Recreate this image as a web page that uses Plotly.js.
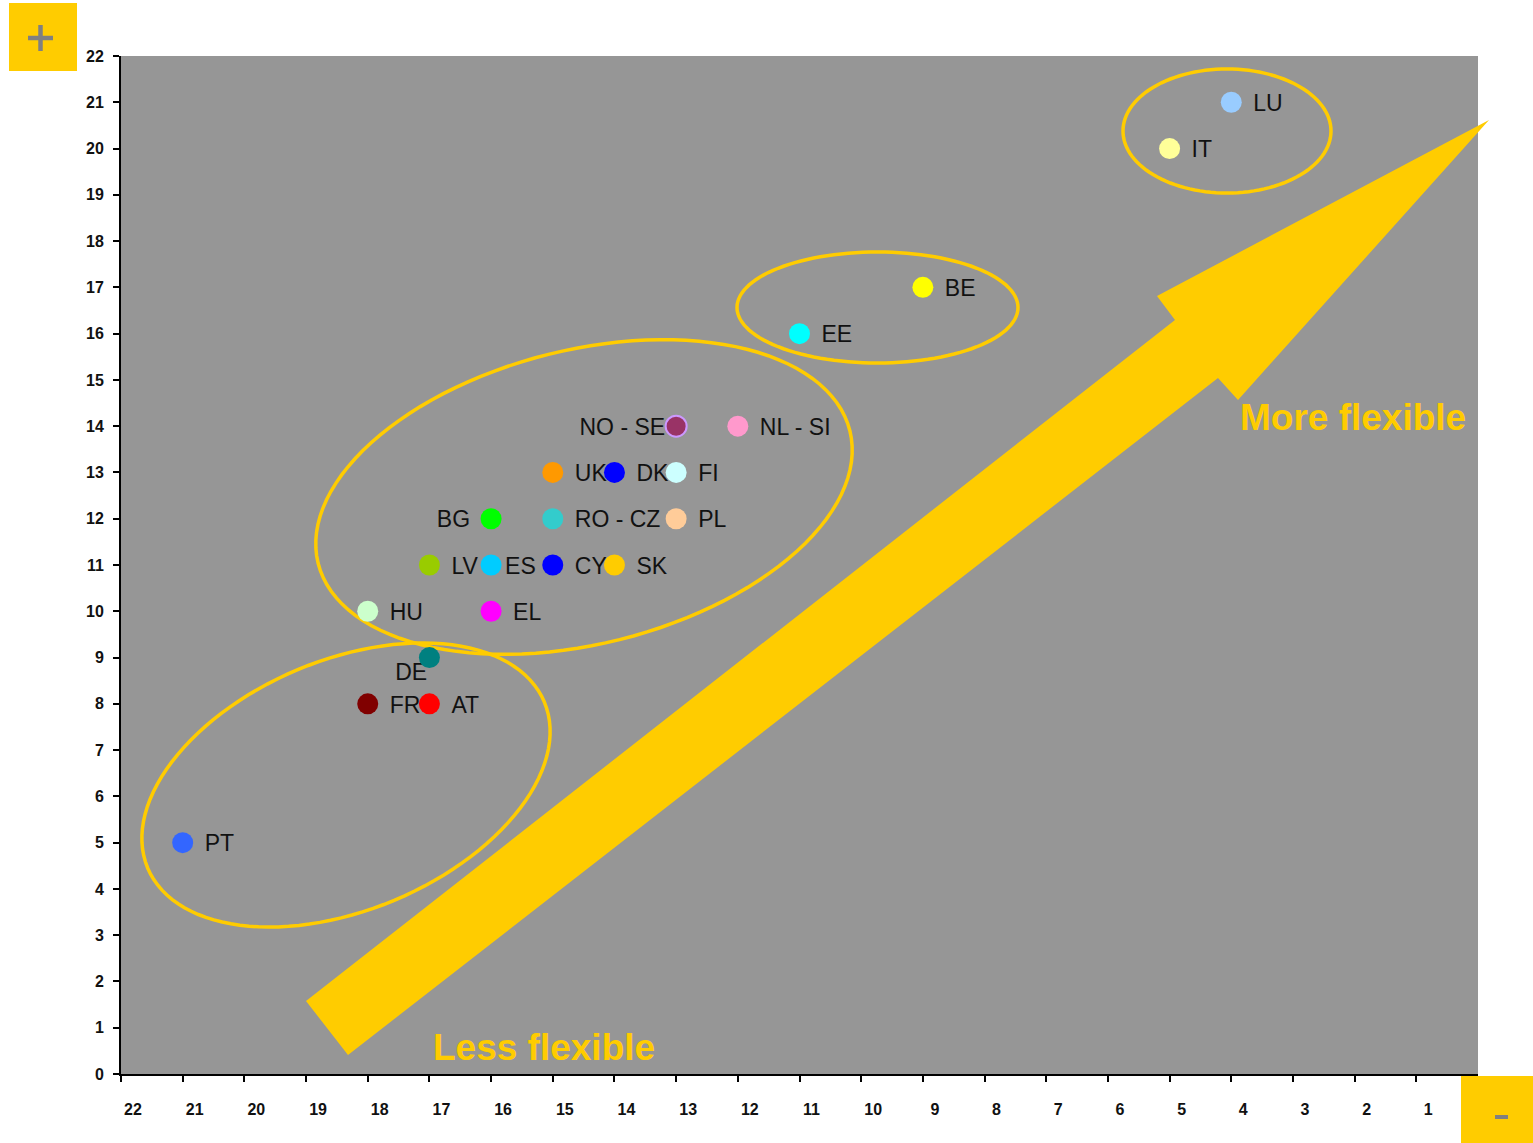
<!DOCTYPE html>
<html><head><meta charset="utf-8">
<script src="https://cdn.plot.ly/plotly-3.0.1.min.js"></script>
<style>html,body{margin:0;padding:0;background:#fff;} #chart{width:1533px;height:1143px;}</style>
</head><body><div id="chart"></div>
<script>
// ---- data ----
const countries = ['LU','IT','BE','EE','NO - SE','NL - SI','UK','DK','FI','BG','RO - CZ','PL','LV','ES','CY','SK','HU','EL','DE','FR','AT','PT'];
const xScore = [4,5,9,11,13,12,15,14,13,16,15,13,17,16,15,14,18,16,17,18,17,21];
const yScore = [21,20,17,16,14,14,13,13,13,12,12,12,11,11,11,11,10,10,9,8,8,5];
const markerColors = ['#99ccff','#ffff99','#ffff00','#00ffff','#993366','#ff99cc','#ff9900','#0000ff','#ccffff','#00ff00','#33cccc','#ffcc99','#99cc00','#00ccff','#0000ff','#ffcc00','#ccffcc','#ff00ff','#008080','#800000','#ff0000','#3366ff'];
const xTicks = [1,2,3,4,5,6,7,8,9,10,11,12,13,14,15,16,17,18,19,20,21,22];
const yTicks = [0,1,2,3,4,5,6,7,8,9,10,11,12,13,14,15,16,17,18,19,20,21,22];
const xTickLabels = ['1','2','3','4','5','6','7','8','9','10','11','12','13','14','15','16','17','18','19','20','21','22'];
const yTickLabels = ['0','1','2','3','4','5','6','7','8','9','10','11','12','13','14','15','16','17','18','19','20','21','22'];
const noteHigh = 'More flexible';
const noteLow = 'Less flexible';

// ---- styling / placement ----
const YELLOW = '#ffcc00';
const FONT = 'Arial, "Liberation Sans", sans-serif';
const labelPlacement = {
  'NO - SE': {pos: 'middle left', gap: 11},
  'BG': {pos: 'middle left', gap: 21},
  'ES': {pos: 'middle right', gap: 14},
  'DE': {pos: 'bottom left', gap: 2.2}
};
const defaultPlacement = {pos: 'middle right', gap: 22};
const placeFor = c => labelPlacement[c] || defaultPlacement;

// plot area in pixels
const L = 121, R = 55, T = 56, B = 69, W = 1533, H = 1143;
const PW = W - L - R, PH = H - T - B;
const px = (x) => (x - L) / PW;
const py = (y) => (H - B - y) / PH;
const Y_RANGE = [0, 22];
const LABEL_DROP_PX = 3; // labels sit a little lower than the marker centre
const labelOffset = LABEL_DROP_PX * (Y_RANGE[1] - Y_RANGE[0]) / PH;

function pathFromPx(pts) {
  return pts.map((p, i) => (i ? 'L' : 'M') + px(p[0]).toFixed(5) + ',' + py(p[1]).toFixed(5)).join(' ') + ' Z';
}
function ellipsePath(cx, cy, a, b, deg) {
  const th = deg * Math.PI / 180, pts = [];
  for (let i = 0; i < 120; i++) {
    const t = i / 120 * 2 * Math.PI;
    const ex = a * Math.cos(t), ey = b * Math.sin(t);
    pts.push([cx + ex * Math.cos(th) + ey * Math.sin(th), cy - ex * Math.sin(th) + ey * Math.cos(th)]);
  }
  return pathFromPx(pts);
}

const arrowPts = [[306,1001],[1175,320],[1157,296],[1489,120],[1238,400],[1218,378],[348,1055]];

const shapes = [
  {type:'path', xref:'paper', yref:'paper', path: pathFromPx(arrowPts), fillcolor: YELLOW, line:{width:0}, layer:'below'},
  {type:'path', xref:'paper', yref:'paper', path: ellipsePath(1227,131,104,62,0), line:{color:YELLOW,width:3.5}, layer:'below'},
  {type:'path', xref:'paper', yref:'paper', path: ellipsePath(877.5,307.5,140.5,55.5,0), line:{color:YELLOW,width:3.5}, layer:'below'},
  {type:'path', xref:'paper', yref:'paper', path: ellipsePath(584,497,274,147,14), line:{color:YELLOW,width:3.5}, layer:'below'},
  {type:'path', xref:'paper', yref:'paper', path: ellipsePath(346,785,215,125,22.7), line:{color:YELLOW,width:3.5}, layer:'below'},
  // "+" box
  {type:'rect', xref:'paper', yref:'paper', x0:px(9), x1:px(77), y0:py(71), y1:py(3), fillcolor:YELLOW, line:{width:0}},
  {type:'line', xref:'paper', yref:'paper', x0:px(28), x1:px(53), y0:py(38), y1:py(38), line:{color:'#808080', width:4.5}},
  {type:'line', xref:'paper', yref:'paper', x0:px(40.5), x1:px(40.5), y0:py(25), y1:py(51), line:{color:'#808080', width:4.5}},
  // "-" box
  {type:'rect', xref:'paper', yref:'paper', x0:px(1461), x1:px(1533), y0:py(1143), y1:py(1076), fillcolor:YELLOW, line:{width:0}},
  {type:'line', xref:'paper', yref:'paper', x0:px(1495), x1:px(1508), y0:py(1117), y1:py(1117), line:{color:'#808080', width:4}}
];

// labels live on the (hidden) main y axis, shifted down a few pixels; markers on the visible overlay axis
const labelTrace = {
  type:'scatter', mode:'markers+text', x:xScore, y:yScore, text:countries, xaxis:'x', yaxis:'y',
  textposition: countries.map(c => placeFor(c).pos),
  marker:{size: countries.map(c => 1.6 * (placeFor(c).gap - 1)), color:'rgba(0,0,0,0)', line:{width:0}},
  textfont:{family:FONT, size:23, color:'#111111'},
  hoverinfo:'skip', showlegend:false, cliponaxis:false
};
const markerTrace = {
  type:'scatter', mode:'markers', x:xScore, y:yScore, text:countries, xaxis:'x', yaxis:'y2',
  marker:{size:21, color:markerColors, opacity:1,
    line:{color: countries.map((c,i) => c === 'NO - SE' ? '#cc99ff' : markerColors[i]), width: countries.map(c => c === 'NO - SE' ? 2 : 0)}},
  hoverinfo:'text', showlegend:false, cliponaxis:false
};

const axisFont = {family:FONT, size:16, color:'#111', weight:'bold'};
const layout = {
  width:W, height:H,
  margin:{l:L, r:R, t:T, b:B, pad:0},
  paper_bgcolor:'#ffffff', plot_bgcolor:'#969696',
  showlegend:false,
  xaxis:{range:[22,0], tickvals:xTicks, ticktext:xTickLabels, ticks:'outside', ticklen:6, tickwidth:2, tickcolor:'#000',
    showline:true, linecolor:'#000', linewidth:2, showgrid:false, zeroline:false, tickfont:axisFont,
    ticklabelshift:-12, ticklabelstandoff:14, fixedrange:true},
  yaxis:{range:[Y_RANGE[0] + labelOffset, Y_RANGE[1] + labelOffset], showticklabels:false, ticks:'', showline:false,
    showgrid:false, zeroline:false, fixedrange:true},
  yaxis2:{overlaying:'y', side:'left', range:Y_RANGE, tickvals:yTicks, ticktext:yTickLabels, ticks:'outside', ticklen:6, tickwidth:2, tickcolor:'#000',
    showline:true, linecolor:'#000', linewidth:2, showgrid:false, zeroline:false, tickfont:axisFont,
    ticklabelstandoff:6, fixedrange:true},
  shapes: shapes,
  annotations:[
    {xref:'paper', yref:'paper', x:px(1353), y:py(417), text:noteHigh, showarrow:false, xanchor:'center', yanchor:'middle',
     font:{family:FONT, size:37, color:YELLOW, weight:'bold'}},
    {xref:'paper', yref:'paper', x:px(544), y:py(1047), text:noteLow, showarrow:false, xanchor:'center', yanchor:'middle',
     font:{family:FONT, size:37, color:YELLOW, weight:'bold'}}
  ]
};
Plotly.newPlot('chart', [labelTrace, markerTrace], layout, {displayModeBar:false, staticPlot:true});
</script></body></html>
